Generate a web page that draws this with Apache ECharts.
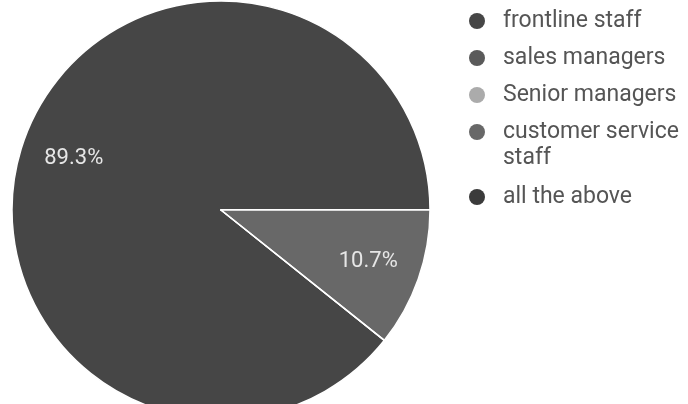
<!DOCTYPE html>
<html>
<head>
<meta charset="utf-8">
<script src="https://cdn.jsdelivr.net/npm/echarts@6/dist/echarts.min.js"></script>
<style>
  html, body { margin: 0; padding: 0; background: #ffffff; }
  #chart { width: 688px; height: 404px; }
</style>
</head>
<body>
<div id="chart"></div>
<script>
// Survey answers: who the question applies to
const categories = ['frontline staff', 'sales managers', 'Senior managers', 'customer service staff', 'all the above'];
const responses = [25, 0, 0, 3, 0];
// legend text; the long entry wraps onto a second line below its marker
const legendLabels = ['frontline staff', 'sales managers', 'Senior managers', '\ncustomer service\nstaff', 'all the above'];

// presentation
const sliceColors = ['#464646', '#5a5a5a', '#ababab', '#686868', '#3b3b3b'];
const legendIconCenters = [21, 58, 95, 132, 197];
const FONT = 'Roboto, "Noto Sans", sans-serif';

const chart = echarts.init(document.getElementById('chart'), null, { renderer: 'canvas' });

const total = responses.reduce((a, b) => a + b, 0);
// the first slice ends at 3 o'clock, so the pie starts below it
const startAngle = -(responses.slice(1).reduce((a, b) => a + b, 0) / total) * 360;

const pieData = categories.map((name, i) => ({
  name: name,
  value: responses[i],
  itemStyle: { color: sliceColors[i] }
}));

const ICON = 16, ICON_W = 42, LINE_H = 26;
const legends = categories.map((name, i) => {
  const lines = legendLabels[i].split('\n').length;
  const iconTop = legendIconCenters[i] - ICON / 2;
  const rectTop = Math.min(0, ICON / 2 - (lines * LINE_H) / 2);
  return {
    orient: 'vertical',
    left: 469,
    top: iconTop + rectTop,
    padding: 0,
    itemWidth: ICON_W,
    itemHeight: ICON,
    icon: 'circle',
    itemStyle: { borderWidth: 0 },
    data: [name],
    formatter: () => legendLabels[i],
    textStyle: {
      color: '#555555',
      fontSize: 23,
      fontFamily: FONT,
      lineHeight: LINE_H
    }
  };
});

chart.setOption({
  backgroundColor: '#ffffff',
  animation: false,
  legend: legends,
  series: [
    {
      type: 'pie',
      center: [221, 210],
      radius: 209,
      startAngle: startAngle,
      clockwise: true,
      avoidLabelOverlap: false,
      data: pieData,
      label: { show: false },
      labelLine: { show: false },
      itemStyle: { borderColor: '#ffffff', borderWidth: 1.5 },
      emphasis: { scale: false }
    },
    {
      // label ring: same slices, transparent, so labels sit at ~73% of the radius
      type: 'pie',
      center: [221, 210],
      radius: 306,
      startAngle: startAngle,
      clockwise: true,
      silent: true,
      avoidLabelOverlap: false,
      percentPrecision: 1,
      data: pieData.map(d => ({ name: d.name, value: d.value })),
      itemStyle: { color: 'rgba(0,0,0,0)', borderWidth: 0 },
      label: {
        show: true,
        position: 'inside',
        color: '#e6e6e6',
        fontSize: 22,
        fontFamily: FONT,
        formatter: p => (p.value ? p.percent.toFixed(1) + '%' : '')
      },
      labelLine: { show: false },
      emphasis: { disabled: true }
    }
  ]
});
</script>
</body>
</html>
